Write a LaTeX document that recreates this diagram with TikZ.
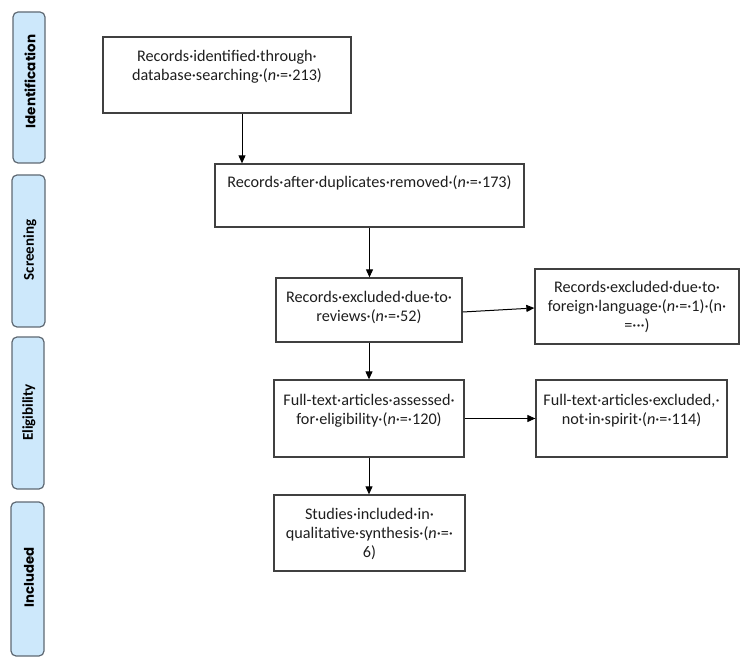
\documentclass[tikz,border=0pt]{standalone}
\usepackage{fontspec}
\setmainfont{Carlito}
\newfontfamily\popfont{Poppins}
\usetikzlibrary{arrows.meta}
\definecolor{barfill}{RGB}{205,232,251}
\definecolor{barline}{RGB}{95,105,115}
\definecolor{boxline}{RGB}{64,64,64}
\definecolor{txt}{RGB}{30,30,30}
\begin{document}
\begin{tikzpicture}[x=1pt,y=-1pt,
 bar/.style={draw=barline, fill=barfill, line width=1.2pt, rounded corners=5pt, inner sep=0pt},
 bartext/.style={rotate=90, font=\fontsize{15}{18}\selectfont\bfseries, text=black, inner sep=0pt},
 box/.style={draw=boxline, line width=1.3pt, inner sep=0pt},
 boxtext/.style={text=txt, font=\fontsize{16.2}{19}\selectfont, align=center, anchor=base, inner sep=0pt},
 arr/.style={draw=black, line width=1pt, -{Triangle[length=8pt,width=7pt]}}]
\useasboundingbox (0,0) rectangle (750,668);
% side bars
\node[bar, minimum width=32pt, minimum height=151pt] (s1) at (29,87.5) {};
\node[bartext, font=\popfont\fontsize{13.5}{16}\selectfont\bfseries] (s1t) at (30,81.5) {Identification};
\node[bar, minimum width=33pt, minimum height=152pt] (s2) at (28.5,251) {};
\node[bartext] (s2t) at (30,250) {Screening};
\node[bar, minimum width=32pt, minimum height=152pt] (s3) at (28,413) {};
\node[bartext] (s3t) at (29,412.5) {Eligibility};
\node[bar, minimum width=33pt, minimum height=154pt] (s4) at (27.5,579) {};
\node[bartext, font=\popfont\fontsize{13.3}{16}\selectfont\bfseries] (s4t) at (29,577.5) {Included};
% boxes
\node[box, minimum width=248pt, minimum height=76pt] (b1) at (227,75) {};
\node[boxtext, text width=248pt] (b1t) at ([yshift=-25pt]b1.north) {Records·identified·through·\\database·searching·(\textit{n}·=·213)};
\node[box, minimum width=309pt, minimum height=63pt] (b2) at (369.5,195.5) {};
\node[boxtext, text width=309pt] (b2t) at ([yshift=-24pt]b2.north) {Records·after·duplicates·removed·(\textit{n}·=·173)};
\node[box, minimum width=186pt, minimum height=64pt] (b3) at (369,310) {};
\node[boxtext, text width=186pt] (b3t) at ([yshift=-25pt]b3.north) {Records·excluded·due·to·\\reviews·(\textit{n}·=·52)};
\node[box, minimum width=204pt, minimum height=75pt] (b4) at (637,306.5) {};
\node[boxtext, text width=204pt] (b4t) at ([yshift=-24pt]b4.north) {Records·excluded·due·to·\\foreign·language·(\textit{n}·=·1)·(n·\\=···)};
\node[box, minimum width=190pt, minimum height=77pt] (b5) at (369,418.5) {};
\node[boxtext, text width=190pt] (b5t) at ([yshift=-26pt]b5.north) {Full-text·articles·assessed·\\for·eligibility·(\textit{n}·=·120)};
\node[box, minimum width=191pt, minimum height=77pt] (b6) at (631.5,418.5) {};
\node[boxtext, text width=191pt] (b6t) at ([yshift=-26pt]b6.north) {Full-text·articles·excluded,·\\not·in·spirit·(\textit{n}·=·114)};
\node[box, minimum width=191pt, minimum height=76pt] (b7) at (369.5,533) {};
\node[boxtext, text width=191pt] (b7t) at ([yshift=-25pt]b7.north) {Studies·included·in·\\qualitative·synthesis·(\textit{n}·=·\\6)};
% connectors
\coordinate (a1) at ([xshift=15pt]b1.south);
\draw[arr] (a1) -- (a1 |- b2.north);
\draw[arr] (b2.south) -- (b2.south |- b3.north);
\draw[arr] (b3.south) -- (b3.south |- b5.north);
\draw[arr] (b5.south) -- (b5.south |- b7.north);
\draw[arr] ([yshift=-2pt]b3.east) -- ([yshift=-1.5pt]b4.west);
\draw[arr] (b5.east) -- (b6.west);
\end{tikzpicture}
\end{document}
